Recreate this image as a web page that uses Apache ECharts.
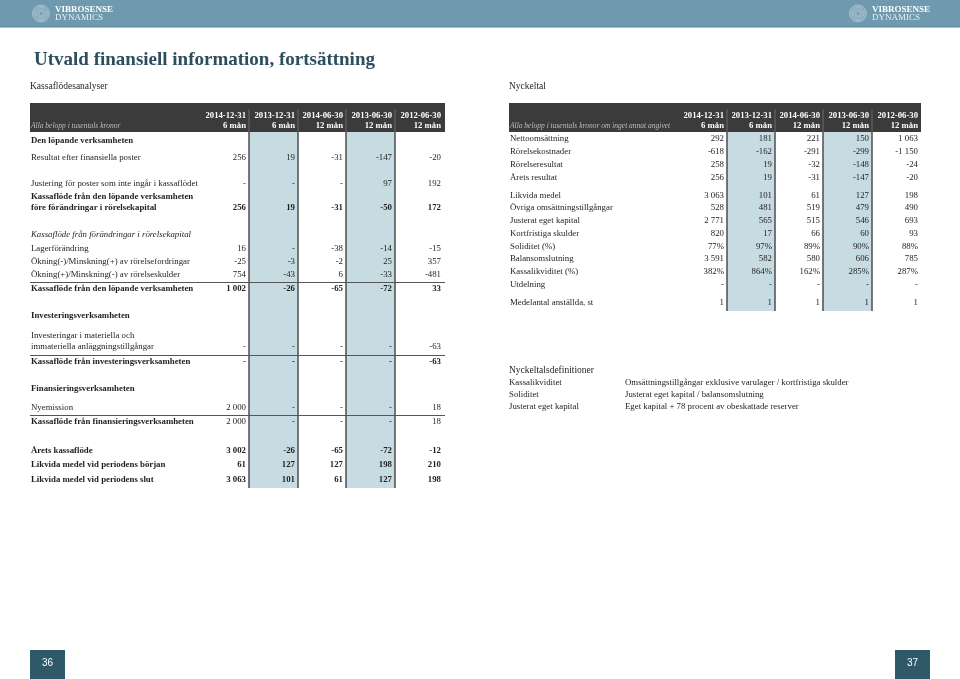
<!DOCTYPE html>
<html>
<head>
<meta charset="utf-8">
<script src="https://cdn.jsdelivr.net/npm/echarts@6/dist/echarts.min.js"></script>
<style>
  html, body { margin: 0; padding: 0; background: #fff; }
  #main { width: 960px; height: 679px; }
</style>
</head>
<body>
<div id="main"></div>
<script>
// kolumnrubriker
var periods = ['2014-12-31', '2013-12-31', '2014-06-30', '2013-06-30', '2012-06-30'];
var spans = ['6 mån', '6 mån', '12 mån', '12 mån', '12 mån'];

// Kassaflödesanalyser
var cashLabels = [
  'Den löpande verksamheten',
  'Resultat efter finansiella poster',
  'Justering för poster som inte ingår i kassaflödet',
  'Kassaflöde från den löpande verksamheten\nföre förändringar i rörelsekapital',
  'Kassaflöde från förändringar i rörelsekapital',
  'Lagerförändring',
  'Ökning(-)/Minskning(+) av rörelsefordringar',
  'Ökning(+)/Minskning(-) av rörelseskulder',
  'Kassaflöde från den löpande verksamheten',
  'Investeringsverksamheten',
  'Investeringar i materiella och\nimmateriella anläggningstillgångar',
  'Kassaflöde från investeringsverksamheten',
  'Finansieringsverksamheten',
  'Nyemission',
  'Kassaflöde från finansieringsverksamheten',
  'Årets kassaflöde',
  'Likvida medel vid periodens början',
  'Likvida medel vid periodens slut'
];
var cashValues = [
  null,
  [256, 19, -31, -147, -20],
  [null, null, null, 97, 192],
  [256, 19, -31, -50, 172],
  null,
  [16, null, -38, -14, -15],
  [-25, -3, -2, 25, 357],
  [754, -43, 6, -33, -481],
  [1002, -26, -65, -72, 33],
  null,
  [null, null, null, null, -63],
  [null, null, null, null, -63],
  null,
  [2000, null, null, null, 18],
  [2000, null, null, null, 18],
  [3002, -26, -65, -72, -12],
  [61, 127, 127, 198, 210],
  [3063, 101, 61, 127, 198]
];

// Nyckeltal
var keyLabels = [
  'Nettoomsättning', 'Rörelsekostnader', 'Rörelseresultat', 'Årets resultat',
  'Likvida medel', 'Övriga omsättningstillgångar', 'Justerat eget kapital',
  'Kortfristiga skulder', 'Soliditet (%)', 'Balansomslutning',
  'Kassalikviditet (%)', 'Utdelning', 'Medelantal anställda, st'
];
var keyValues = [
  [292, 181, 221, 150, 1063],
  [-618, -162, -291, -299, -1150],
  [258, 19, -32, -148, -24],
  [256, 19, -31, -147, -20],
  [3063, 101, 61, 127, 198],
  [528, 481, 519, 479, 490],
  [2771, 565, 515, 546, 693],
  [820, 17, 66, 60, 93],
  [77, 97, 89, 90, 88],
  [3591, 582, 580, 606, 785],
  [382, 864, 162, 285, 287],
  [null, null, null, null, null],
  [1, 1, 1, 1, 1]
];
var keyUnits = ['', '', '', '', '', '', '', '', '%', '', '%', '', ''];

// Nyckeltalsdefinitioner
var defTerms = ['Kassalikviditet', 'Soliditet', 'Justerat eget kapital'];
var defTexts = [
  'Omsättningstillgångar exklusive varulager / kortfristiga skulder',
  'Justerat eget kapital / balansomslutning',
  'Eget kapital + 78 procent av obeskattade reserver'
];

// layout (positioner och stil)
var cashRowY = [141, 158, 184, 208, 235, 249, 262, 275, 289, 316, 347, 362, 389, 408, 422, 451, 465, 480];
var cashLabelStyle = ['bold', '', '', 'bold', 'italic', '', '', '', 'bold', 'bold', '', 'bold', 'bold', '', 'bold', 'bold', 'bold', 'bold'];
var cashValueBold = [0, 0, 0, 1, 0, 0, 0, 0, 1, 0, 0, 1, 0, 0, 0, 1, 1, 1];
var cashRulesAfter = [7, 10, 13];
var keyRowY = [139, 152, 165, 178, 196, 208, 221, 234, 247, 259, 272, 285, 303];

var SERIF = '"Liberation Serif", "DejaVu Serif", serif';
var TXT = '#1e1e1e';
var BODY = '8.8px ';

function fmt(v, unit) {
  if (v === null || v === undefined) return '-';
  var s = String(Math.abs(v)).replace(/\B(?=(\d{3})+(?!\d))/g, ' ');
  return (v < 0 ? '-' : '') + s + (unit || '');
}

function text(x, y, str, font, fill, align) {
  return {
    type: 'text', x: x, y: y, silent: true,
    style: { text: str, font: font, fill: fill || TXT, textAlign: align || 'left', textVerticalAlign: 'middle' }
  };
}

var els = [];

// topp-band
els.push({ type: 'rect', shape: { x: 0, y: 0, width: 960, height: 27 }, style: { fill: '#6e99ae' } });
els.push({ type: 'line', shape: { x1: 0, y1: 27, x2: 960, y2: 27 }, style: { stroke: '#5d8699', lineWidth: 1 } });
[[41, 55], [858, 872]].forEach(function (p) {
  for (var r = 2; r <= 8.5; r += 1.3) {
    els.push({ type: 'circle', shape: { cx: p[0], cy: 13.5, r: r }, style: { fill: 'none', stroke: 'rgba(235,242,246,0.55)', lineWidth: 0.8 } });
  }
  els.push(text(p[1], 9.5, 'VIBROSENSE', 'bold 9px ' + SERIF, '#ffffff'));
  els.push(text(p[1], 18, 'DYNAMICS', '9px ' + SERIF, '#e8eff3'));
});

// rubrik
els.push(text(34, 60, 'Utvald finansiell information, fortsättning', 'bold 19px ' + SERIF, '#2c4f5e'));
els.push(text(30, 86, 'Kassaflödesanalyser', '9.5px ' + SERIF, TXT));
els.push(text(509, 86, 'Nyckeltal', '9.5px ' + SERIF, TXT));

function table(x0, x1, colRight, bottom, note, labels, values, rowY, labelStyle, valueBold, units) {
  var top = 103, headBottom = 132;
  // skuggade kolumner
  [1, 3].forEach(function (c) {
    els.push({ type: 'rect', shape: { x: colRight[c - 1], y: headBottom, width: colRight[c] - colRight[c - 1], height: bottom - headBottom }, style: { fill: '#c7dbe2' } });
  });
  for (var c = 0; c < 4; c++) {
    els.push({ type: 'line', shape: { x1: colRight[c], y1: headBottom, x2: colRight[c], y2: bottom }, style: { stroke: '#4d4d4d', lineWidth: 1.5 } });
  }
  // rubrikband
  els.push({ type: 'rect', shape: { x: x0, y: top, width: x1 - x0, height: headBottom - top }, style: { fill: '#3b3b3b' } });
  for (c = 0; c < 4; c++) {
    els.push({ type: 'line', shape: { x1: colRight[c], y1: top + 6, x2: colRight[c], y2: headBottom }, style: { stroke: '#6a6a6a', lineWidth: 1 } });
  }
  els.push(text(x0 + 1, 126, note, 'italic 7.5px ' + SERIF, '#bdbdbd'));
  periods.forEach(function (p, i) {
    els.push(text(colRight[i] - 3, 115.5, p, 'bold 8.7px ' + SERIF, '#ffffff', 'right'));
    els.push(text(colRight[i] - 3, 125.5, spans[i], 'bold 8.7px ' + SERIF, '#ffffff', 'right'));
  });
  // rader
  labels.forEach(function (lab, r) {
    var lines = lab.split('\n');
    var st = labelStyle[r] || '';
    lines.forEach(function (ln, k) {
      els.push(text(x0 + 1, rowY[r] - 11 * (lines.length - 1 - k), ln, (st ? st + ' ' : '') + BODY + SERIF, TXT));
    });
    if (values[r]) {
      values[r].forEach(function (v, i) {
        els.push(text(colRight[i] - 3, rowY[r], fmt(v, units && units[r]), (valueBold[r] ? 'bold ' : '') + BODY + SERIF, TXT, 'right'));
      });
    }
  });
}

table(30, 445, [249, 298, 346, 395, 444], 488, 'Alla belopp i tusentals kronor',
  cashLabels, cashValues, cashRowY, cashLabelStyle, cashValueBold, null);
cashRulesAfter.forEach(function (r) {
  var y = Math.round((cashRowY[r] + cashRowY[r + 1]) / 2) + 0.5;
  els.push({ type: 'line', shape: { x1: 30, y1: y, x2: 445, y2: y }, style: { stroke: '#555', lineWidth: 1 } });
});

table(509, 921, [727, 775, 823, 872, 921], 311, 'Alla belopp i tusentals kronor om inget annat angivet',
  keyLabels, keyValues, keyRowY, [], [], keyUnits);

// definitioner
els.push(text(509, 370, 'Nyckeltalsdefinitioner', '9.5px ' + SERIF, TXT));
defTerms.forEach(function (t, i) {
  els.push(text(509, 383 + 12 * i, t, BODY + SERIF, TXT));
  els.push(text(625, 383 + 12 * i, defTexts[i], BODY + SERIF, TXT));
});

// sidnummer
[[30, '36'], [895, '37']].forEach(function (p) {
  els.push({ type: 'rect', shape: { x: p[0], y: 650, width: 35, height: 29 }, style: { fill: '#2f5968' } });
  els.push(text(p[0] + 17.5, 663, p[1], '10px "Liberation Sans", Arial, sans-serif', '#ffffff', 'center'));
});

var chart = echarts.init(document.getElementById('main'), null, { renderer: 'canvas' });
chart.setOption({
  animation: false,
  backgroundColor: '#ffffff',
  graphic: { elements: els }
});
</script>
</body>
</html>
